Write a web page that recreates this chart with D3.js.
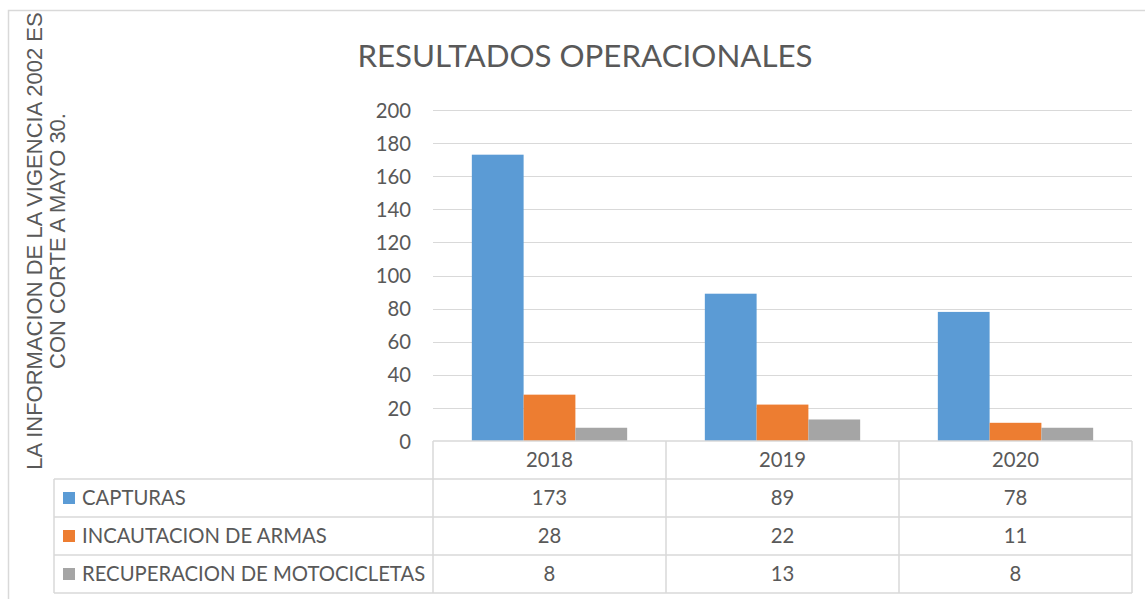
<!DOCTYPE html>
<html>
<head>
<meta charset="utf-8">
<script src="https://cdn.jsdelivr.net/npm/d3@7"></script>
<style>
  html, body { margin: 0; padding: 0; background: #fff; }
  svg { display: block; }
</style>
</head>
<body>
<svg id="chart" width="1145" height="599"></svg>
<script>
// Operational results by year
const years = ["2018", "2019", "2020"];
const seriesNames = ["CAPTURAS", "INCAUTACION DE ARMAS", "RECUPERACION DE MOTOCICLETAS"];
const capturas = [173, 89, 78];
const incautacion = [28, 22, 11];
const recuperacion = [8, 13, 8];
const yTicks = [0, 20, 40, 60, 80, 100, 120, 140, 160, 180, 200];
const colors = ["#5B9BD5", "#ED7D31", "#A5A5A5"];

const seriesValues = [capturas, incautacion, recuperacion];

const svg = d3.select("#chart");
const font = "Lato, 'Open Sans', sans-serif";
const textColor = "#595959";
const lineColor = "#D9D9D9";
const fs = 20.3;

// Outer chart frame
svg.append("rect")
  .attr("x", 8.5).attr("y", 10.5)
  .attr("width", 1160).attr("height", 620)
  .attr("fill", "#fff")
  .attr("stroke", lineColor).attr("stroke-width", 1.5);

const plot = { left: 433, right: 1132, top: 110, bottom: 441 };

const x = d3.scaleBand().domain(years).range([plot.left, plot.right]);
const y = d3.scaleLinear().domain([0, 200]).range([plot.bottom, plot.top]);
const xInner = d3.scaleBand().domain(d3.range(seriesNames.length))
  .range([0, x.bandwidth()]).paddingOuter(0.5 * 78 / 52).paddingInner(0);

// Title
svg.append("text")
  .attr("x", 585).attr("y", 67)
  .attr("text-anchor", "middle")
  .attr("font-family", font).attr("font-size", 31.3)
  .attr("fill", textColor)
  .text("RESULTADOS OPERACIONALES");

// Gridlines
svg.append("g")
  .selectAll("line").data(yTicks.filter(d => d > 0)).join("line")
  .attr("x1", plot.left).attr("x2", plot.right)
  .attr("y1", d => Math.round(y(d)) + 0.5).attr("y2", d => Math.round(y(d)) + 0.5)
  .attr("stroke", lineColor).attr("stroke-width", 1.2);

// Y axis labels
const yAxis = d3.axisLeft(y).tickValues(yTicks).tickSize(0).tickPadding(0);
const gy = svg.append("g").attr("transform", `translate(${411},0)`).call(yAxis);
gy.select(".domain").remove();
gy.selectAll("text")
  .attr("font-family", font).attr("font-size", fs)
  .attr("fill", textColor).attr("dy", "0.35em");

// Bars
const groups = svg.append("g").selectAll("g").data(years).join("g")
  .attr("transform", d => `translate(${x(d)},0)`);
groups.selectAll("rect")
  .data((yr, i) => seriesValues.map((vals, s) => ({ s, v: vals[i] })))
  .join("rect")
  .attr("x", d => xInner(d.s))
  .attr("width", xInner.bandwidth())
  .attr("y", d => y(d.v))
  .attr("height", d => y(0) - y(d.v))
  .attr("fill", d => colors[d.s]);

// Data table
const rowH = 38;
const tableLeft = 54;
const headerTop = plot.bottom;
const rowTops = seriesNames.map((_, i) => headerTop + rowH * (i + 1));
const tableBottom = headerTop + rowH * (seriesNames.length + 1);
const tg = svg.append("g").attr("stroke", lineColor).attr("stroke-width", 1.5).attr("fill", "none");

// horizontal lines
tg.append("line").attr("x1", plot.left).attr("x2", plot.right)
  .attr("y1", headerTop).attr("y2", headerTop);
[...rowTops, tableBottom].forEach(yy => {
  tg.append("line").attr("x1", tableLeft).attr("x2", plot.right)
    .attr("y1", yy).attr("y2", yy);
});
// vertical lines
tg.append("line").attr("x1", tableLeft).attr("x2", tableLeft)
  .attr("y1", rowTops[0]).attr("y2", tableBottom);
years.forEach(yr => {
  tg.append("line").attr("x1", x(yr)).attr("x2", x(yr))
    .attr("y1", headerTop).attr("y2", tableBottom);
});
tg.append("line").attr("x1", plot.right).attr("x2", plot.right)
  .attr("y1", headerTop).attr("y2", tableBottom);

// header labels
svg.append("g").selectAll("text").data(years).join("text")
  .attr("x", d => x(d) + x.bandwidth() / 2)
  .attr("y", headerTop + rowH / 2)
  .attr("dy", "0.35em")
  .attr("text-anchor", "middle")
  .attr("font-family", font).attr("font-size", fs)
  .attr("fill", textColor)
  .text(d => d);

// rows
seriesNames.forEach((name, s) => {
  const cy = rowTops[s] + rowH / 2;
  svg.append("rect")
    .attr("x", 63).attr("y", cy - 6).attr("width", 12).attr("height", 12)
    .attr("fill", colors[s]);
  svg.append("text")
    .attr("x", 82).attr("y", cy).attr("dy", "0.35em")
    .attr("font-family", font).attr("font-size", fs)
    .attr("fill", textColor)
    .text(name);
  svg.append("g").selectAll("text").data(years).join("text")
    .attr("x", d => x(d) + x.bandwidth() / 2)
    .attr("y", cy).attr("dy", "0.35em")
    .attr("text-anchor", "middle")
    .attr("font-family", font).attr("font-size", fs)
    .attr("fill", textColor)
    .text((d, i) => seriesValues[s][i]);
});

// Vertical axis title (two lines)
const axisTitle = svg.append("text")
  .attr("transform", "translate(34,241) rotate(-90)")
  .attr("text-anchor", "middle")
  .attr("font-family", "'Liberation Sans', Arial, sans-serif")
  .attr("font-size", 22)
  .attr("fill", textColor);
axisTitle.append("tspan").attr("x", 0).attr("dy", "0.35em")
  .text("LA INFORMACION DE LA VIGENCIA 2002 ES");
axisTitle.append("tspan").attr("x", 0).attr("dy", "1.05em")
  .text("CON CORTE A MAYO 30.");
</script>
</body>
</html>
